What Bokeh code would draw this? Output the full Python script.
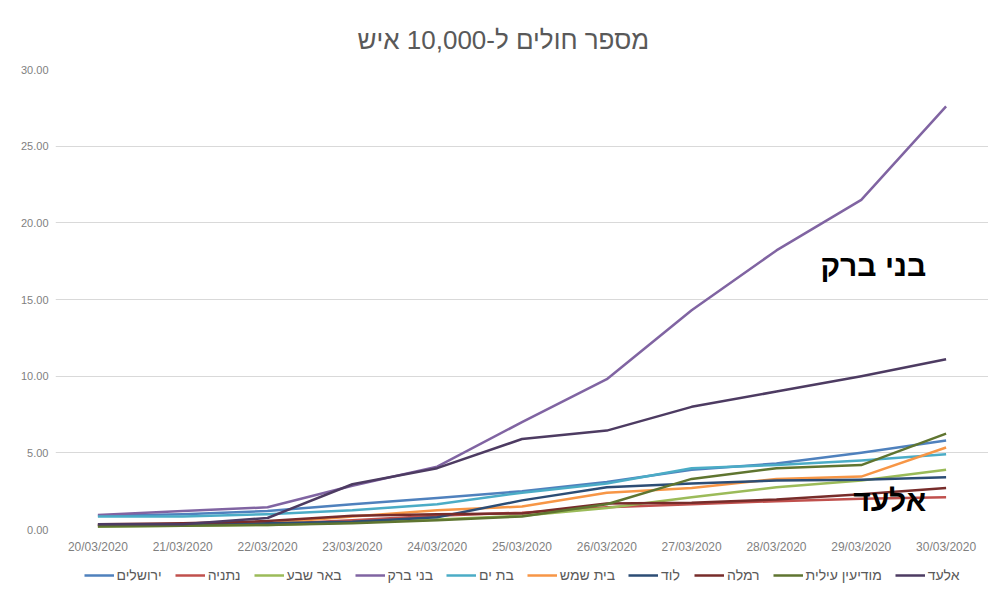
from bokeh.plotting import figure
from bokeh.layouts import column
from bokeh.models import Legend, LegendItem, NumeralTickFormatter, FixedTicker, FactorRange, Range1d
from bokeh.core.properties import value
from bokeh.embed import file_html
from bokeh.resources import INLINE

dates = ["20/03/2020", "21/03/2020", "22/03/2020", "23/03/2020", "24/03/2020", "25/03/2020",
         "26/03/2020", "27/03/2020", "28/03/2020", "29/03/2020", "30/03/2020"]

jerusalem = [0.90, 1.00, 1.20, 1.65, 2.05, 2.50, 3.10, 3.90, 4.30, 5.00, 5.80]
netanya = [0.25, 0.30, 0.35, 0.60, 0.90, 1.10, 1.45, 1.65, 1.85, 2.00, 2.10]
beer_sheva = [0.20, 0.25, 0.30, 0.45, 0.65, 0.90, 1.40, 2.10, 2.75, 3.20, 3.90]
bnei_brak = [0.95, 1.20, 1.45, 2.85, 4.10, 7.00, 9.80, 14.30, 18.20, 21.50, 27.60]
bat_yam = [0.85, 0.85, 1.00, 1.25, 1.65, 2.40, 3.00, 4.00, 4.20, 4.50, 4.90]
beit_shemesh = [0.30, 0.35, 0.40, 0.85, 1.25, 1.50, 2.40, 2.70, 3.30, 3.45, 5.35]
lod = [0.30, 0.30, 0.40, 0.50, 0.80, 1.90, 2.75, 3.00, 3.20, 3.25, 3.40]
ramla = [0.35, 0.40, 0.55, 0.90, 1.00, 1.05, 1.70, 1.75, 1.95, 2.30, 2.70]
modiin_illit = [0.20, 0.25, 0.30, 0.40, 0.60, 0.85, 1.65, 3.30, 4.00, 4.20, 6.25]
elad = [0.35, 0.35, 0.75, 2.95, 4.00, 5.90, 6.45, 8.00, 9.00, 10.00, 11.10]

series_names = ["ירושלים", "נתניה", "באר שבע", "בני ברק", "בת ים", "בית שמש", "לוד", "רמלה", "מודיעין עילית", "אלעד"]
series_values = [jerusalem, netanya, beer_sheva, bnei_brak, bat_yam, beit_shemesh, lod, ramla, modiin_illit, elad]
series_colors = ["#4F81BD", "#C0504D", "#9BBB59", "#8064A2", "#4BACC6", "#F79646",
                 "#2C4D75", "#772C2A", "#5F7530", "#4D3B62"]

y_ticks = [0, 5, 10, 15, 20, 25, 30]
title_text = "מספר חולים ל-10,000 איש"
callouts = ["בני ברק", "אלעד"]
callout_values = [17.2, 1.9]

FONT = "Liberation Sans"
W = 988

p = figure(width=W, height=560, x_range=FactorRange(*dates), y_range=Range1d(0, 30),
           output_backend="svg", toolbar_location=None,
           min_border_left=55, min_border_right=0, min_border_top=69, min_border_bottom=31)

p.title.text = title_text
p.title.align = "left"
p.title.offset = 302
p.title.text_font = FONT
p.title.text_font_size = "26px"
p.title.text_font_style = "normal"
p.title.text_color = "#595959"
p.title.standoff = 29

p.outline_line_color = None
p.background_fill_color = "white"
p.border_fill_color = "white"
p.xgrid.grid_line_color = None
p.ygrid.grid_line_color = "#D9D9D9"
p.ygrid.grid_line_width = 1

p.yaxis.ticker = FixedTicker(ticks=y_ticks)
p.yaxis.formatter = NumeralTickFormatter(format="0.00")
for ax in (p.xaxis[0], p.yaxis[0]):
    ax.axis_line_color = None
    ax.major_tick_line_color = None
    ax.minor_tick_line_color = None
    ax.major_tick_out = 0
    ax.major_tick_in = 0
    ax.minor_tick_out = 0
    ax.major_label_text_font = FONT
    ax.major_label_text_color = "#7F7F7F"
p.yaxis.major_label_text_font_size = "11px"
p.xaxis.major_label_text_font_size = "12px"
p.yaxis.major_label_standoff = 7
p.xaxis.major_label_standoff = 10
p.x_range.range_padding = 0
p.x_range.factor_padding = 0

for name, vals, col in zip(series_names, series_values, series_colors):
    p.line(x=dates, y=vals, line_color=col, line_width=2.5, line_join="round")

p.text(x=[dates[-1], dates[-1]], y=callout_values, text=callouts,
       text_font=value(FONT), text_font_size="30px", text_font_style="bold",
       text_color="black", text_align="right", text_baseline="middle", x_offset=-20)

# legend strip below the chart (its glyphs sit outside the strip's visible range)
lg = figure(width=W, height=30, x_range=Range1d(0, 1), y_range=Range1d(0, 1),
            output_backend="svg", toolbar_location=None, x_axis_type=None, y_axis_type=None,
            min_border_left=0, min_border_right=0, min_border_top=0, min_border_bottom=0)
lg.outline_line_color = None
lg.xgrid.grid_line_color = None
lg.ygrid.grid_line_color = None
items = []
for name, col in zip(series_names, series_colors):
    r = lg.line(x=[5, 6], y=[5, 6], line_color=col, line_width=2.5)
    items.append(LegendItem(label=name, renderers=[r]))
legend = Legend(items=items, orientation="horizontal", location="center",
                label_text_font=FONT, label_text_font_size="14px", label_text_color="#595959",
                glyph_width=30, glyph_height=14, label_standoff=3, spacing=13,
                padding=4, margin=0, border_line_color=None, background_fill_alpha=0)
lg.add_layout(legend, "center")

layout = column(p, lg, spacing=0)
open("out.html", "w").write(file_html(layout, INLINE))
